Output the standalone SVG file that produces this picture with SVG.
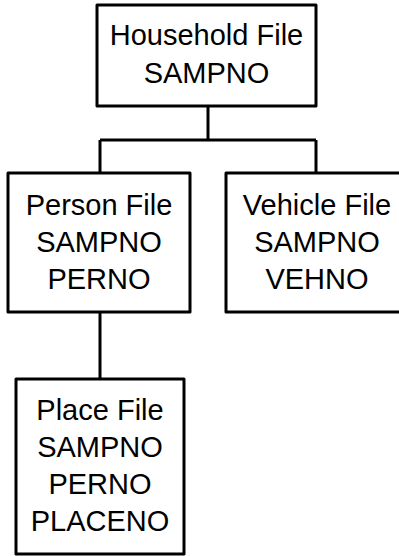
<svg xmlns="http://www.w3.org/2000/svg" width="399" height="556" viewBox="0 0 399 556">
<style>
.box{fill:#fff;stroke:#000;stroke-width:3;stroke-linejoin:round}
.conn{fill:none;stroke:#000;stroke-width:3}
text{font-family:"Liberation Sans",Arial,sans-serif;font-size:29px;fill:#000;text-anchor:middle}
</style>
<rect width="399" height="556" fill="#fff"/>
<g id="connectors">
<path class="conn" d="M208 106V140M100 140H316M100 140V173M316 140V173M100 312V379"/>
</g>
<g id="household">
<rect class="box" x="97" y="5" width="219" height="101"/>
<text x="206.5" y="45">Household File</text>
<text x="206.5" y="83">SAMPNO</text>
</g>
<g id="person">
<rect class="box" x="8" y="173" width="182" height="139"/>
<text x="99" y="215">Person File</text>
<text x="99" y="252">SAMPNO</text>
<text x="99" y="289">PERNO</text>
</g>
<g id="vehicle">
<rect class="box" x="226" y="173" width="182" height="139"/>
<text x="317" y="215">Vehicle File</text>
<text x="317" y="252">SAMPNO</text>
<text x="317" y="289">VEHNO</text>
</g>
<g id="place">
<rect class="box" x="16" y="379" width="168" height="175"/>
<text x="100" y="420">Place File</text>
<text x="100" y="457">SAMPNO</text>
<text x="100" y="494">PERNO</text>
<text x="100" y="531">PLACENO</text>
</g>
</svg>
